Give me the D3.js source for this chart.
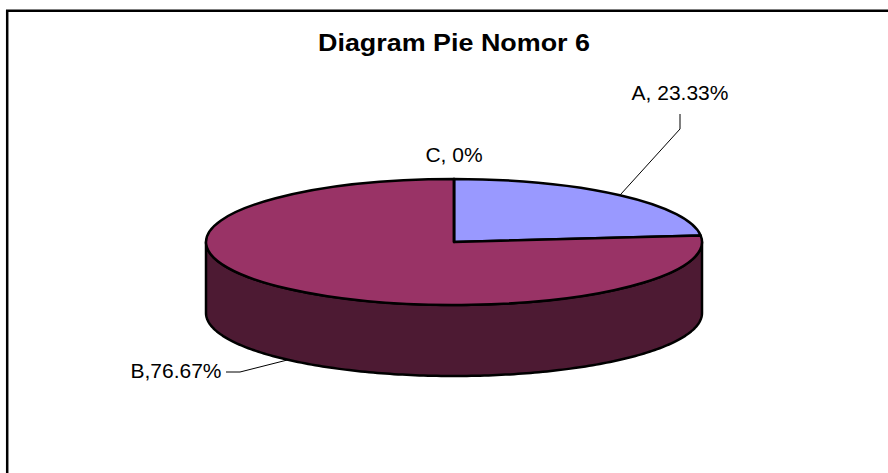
<!DOCTYPE html>
<html>
    <head>
        <meta charset="utf-8">
        <script src="https://cdn.jsdelivr.net/npm/d3@7"></script>
        <style>
            html, body { margin: 0; padding: 0; background: white; }
            svg { display: block; }
            text { font-family: "Liberation Sans", Arial, sans-serif; fill: black; }
        </style>
    </head>
    <body>
        <svg id="fig" width="888" height="473"></svg>
        <script>
            const chart_title = "Diagram Pie Nomor 6";
            const categories = ["A", "B", "C"];
            const values = [23.33, 76.67, 0];
            const value_labels = ["A, 23.33%", "B,76.67%", "C, 0%"];
            const colors = ["#9999ff", "#993366", "#993366"];
            const side_color = "#4d1a33";

            const cx = 454, cy = 242, rx = 248, ry = 63, depth = 71;

            const svg = d3.select("#fig");

            // chart frame (only top and left are inside the crop)
            svg.append("path")
                .attr("d", "M7.2,473V10.7H888")
                .attr("fill", "none")
                .attr("stroke", "black")
                .attr("stroke-width", 2.5);

            svg.append("text")
                .attr("x", 454).attr("y", 51)
                .attr("text-anchor", "middle")
                .attr("font-size", 24).attr("font-weight", "bold")
                .attr("textLength", 272).attr("lengthAdjust", "spacingAndGlyphs")
                .text(chart_title);

            // pie angles from the data, starts at 12 o'clock
            const pie = d3.pie().sort(null)(values);

            const ellipse_x = a => cx + rx * Math.sin(a);
            const ellipse_y = a => cy - ry * Math.cos(a);

            // side wall: front half of the rim, dropped by depth
            const front = d3.range(0, 181).map(i => Math.PI / 2 + i * Math.PI / 180);
            const wall = front.map(a => [ellipse_x(a), ellipse_y(a)])
                .concat(front.slice().reverse().map(a => [ellipse_x(a), ellipse_y(a) + depth]));

            svg.append("path")
                .attr("d", d3.line()(wall) + "Z")
                .attr("fill", side_color)
                .attr("stroke", "black")
                .attr("stroke-width", 2.5)
                .attr("stroke-linejoin", "round");

            // top face, d3.arc scaled down into an ellipse
            const arc = d3.arc().innerRadius(0).outerRadius(rx);

            svg.append("g")
                .attr("transform", "translate(" + cx + "," + cy + ") scale(1," + (ry / rx) + ")")
                .selectAll("path").data(pie)
                .enter()
                .append("path")
                .attr("d", arc)
                .attr("fill", (d, i) => colors[i])
                .attr("stroke", "black")
                .attr("stroke-width", 2.5)
                .attr("stroke-linejoin", "round")
                .attr("vector-effect", "non-scaling-stroke");

            // leader lines start at the middle of their slice
            const mid_a = (pie[0].startAngle + pie[0].endAngle) / 2;
            const mid_b = (pie[1].startAngle + pie[1].endAngle) / 2;
            const leader_a = d3.line()([[ellipse_x(mid_a), ellipse_y(mid_a)], [680, 129], [680, 114]]);
            const leader_b = d3.line()([[ellipse_x(mid_b), ellipse_y(mid_b) + depth], [240, 372], [226, 372]]);

            svg.selectAll("path.leader").data([leader_a, leader_b])
                .enter()
                .append("path")
                .attr("class", "leader")
                .attr("d", d => d)
                .attr("fill", "none")
                .attr("stroke", "black")
                .attr("stroke-width", 1);

            // data labels
            const label_pos = [[680, 100], [176, 378], [454, 162]];

            svg.selectAll("text.label").data(value_labels)
                .enter()
                .append("text")
                .attr("class", "label")
                .attr("x", (d, i) => label_pos[i][0])
                .attr("y", (d, i) => label_pos[i][1])
                .attr("text-anchor", "middle")
                .attr("font-size", 21)
                .text(d => d);
        </script>
    </body>
</html>
